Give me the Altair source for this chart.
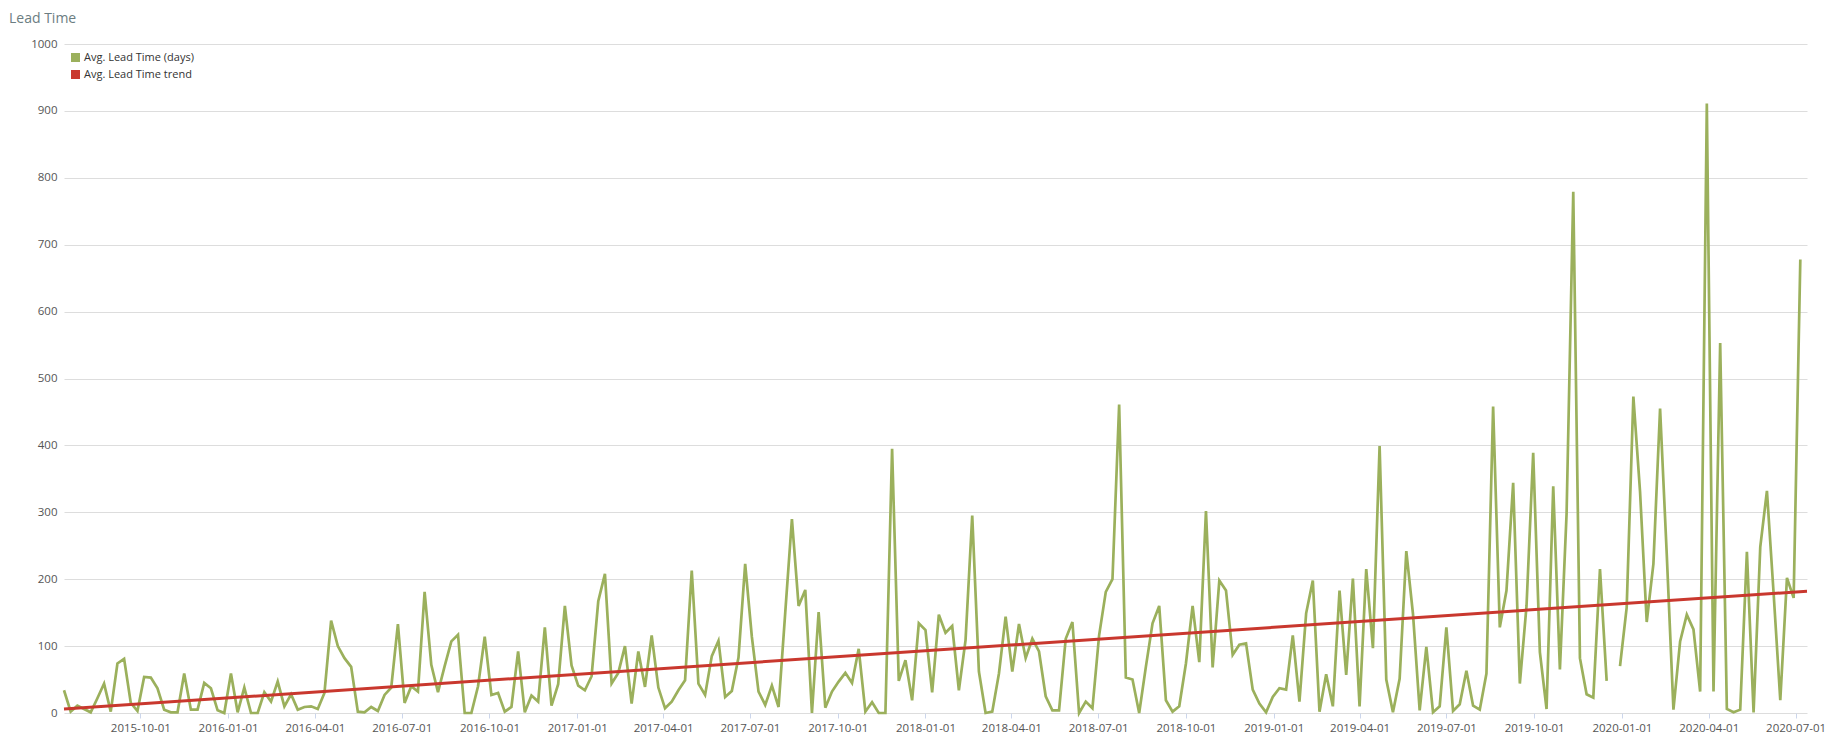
import altair as alt
import pandas as pd

# ---- data ----
start_date = "2015-07-13"  # first weekly point
lead_time_values = [
    34, 2, 11, 6, 1, 22, 44, 2, 74, 81, 15, 3, 54, 53, 37, 5, 1, 1, 59, 5,
    5, 45, 37, 4, 0, 59, 1, 38, 0, 0, 31, 17, 47, 10, 28, 5, 9, 10, 6, 30,
    138, 100, 82, 69, 2,
    1, 9, 3, 27, 38, 133, 15, 40, 32, 181, 72, 31, 70, 107, 117, 0, 0, 40, 114, 27,
    30, 2, 9, 92, 1, 26, 17, 128, 11, 43, 160, 71, 41, 34, 55, 167, 208, 44, 60, 100,
    14, 92, 39, 116, 38,
    7, 17, 34, 49, 213, 44, 27, 85, 108, 24, 33, 83, 223, 114, 32, 12, 41, 9, 150, 290,
    160, 184, 0, 151, 8, 32, 47, 60, 45, 96, 2, 16, 0, 0, 395, 48, 79, 19, 134, 124,
    31, 147, 120, 130, 34,
    109, 295, 62, 0, 2, 59, 144, 62, 133, 82, 111, 92, 25, 4, 4, 111, 136, 0, 17, 7,
    116, 181, 200, 461, 53, 50, 0, 69, 134, 160, 19, 2, 10, 74, 160, 76, 302, 68, 198, 183,
    87, 102, 104, 35, 14,
    1, 24, 37, 35, 116, 17, 149, 198, 2, 58, 10, 183, 57, 201, 10, 215, 97, 399, 50, 1,
    51, 242, 148, 4, 99, 1, 10, 128, 3, 13, 63, 11, 5, 59, 458, 128, 183, 344, 44, 160,
    389, 91, 6, 339, 65,
    298, 779, 82, 28, 23, 215, 48, None, 70, 158, 473, 331, 136, 223, 455, 237, 5, 107, 147, 125,
    32, 911, 32, 553, 6, 1, 5, 241, 1, 248, 332, 179, 19, 202, 172, 678,
]
trend_dates = ["2015-07-13", "2020-07-13"]
trend_values = [6, 182]
x_domain = [(2015, 7, 13), (2020, 7, 13)]
x_tick_dates = [
    (2015, 10, 1), (2016, 1, 1), (2016, 4, 1), (2016, 7, 1), (2016, 10, 1),
    (2017, 1, 1), (2017, 4, 1), (2017, 7, 1), (2017, 10, 1), (2018, 1, 1),
    (2018, 4, 1), (2018, 7, 1), (2018, 10, 1), (2019, 1, 1), (2019, 4, 1),
    (2019, 7, 1), (2019, 10, 1), (2020, 1, 1), (2020, 4, 1), (2020, 7, 1),
]
y_ticks = [0, 100, 200, 300, 400, 500, 600, 700, 800, 900, 1000]
series_names = ["Avg. Lead Time (days)", "Avg. Lead Time trend"]
series_colors = ["#9bb05c", "#c9382e"]
chart_title = ["Lead Time"]

# ---- tables ----
dates = pd.date_range(start_date, periods=len(lead_time_values), freq="7D")
rows = []
segment = 0
for d, v in zip(dates, lead_time_values):
    if v is None:
        segment += 1
        continue
    rows.append({"date": d.strftime("%Y-%m-%d"), "value": v,
                 "series": series_names[0], "segment": segment})
df_main = pd.DataFrame(rows)
df_trend = pd.DataFrame({"date": trend_dates, "value": trend_values,
                         "series": series_names[1], "segment": -1})
df_title = pd.DataFrame({"title": chart_title})


def dt(t):
    return alt.DateTime(year=t[0], month=t[1], date=t[2], utc=True)


FONT = "Open Sans"
LABEL_COLOR = "#555555"

x_enc = alt.X(
    "date:T",
    scale=alt.Scale(type="utc", domain=[dt(t) for t in x_domain]),
    axis=alt.Axis(
        values=[dt(t) for t in x_tick_dates],
        labelExpr="utcFormat(datum.value, '%Y-%m-%d')",
        labelFont=FONT, labelFontSize=11.5, labelColor=LABEL_COLOR,
        tickSize=5, tickColor="#ccd6eb", domain=False, grid=False,
        labelPadding=4, title=None, labelOverlap=False,
    ),
)
y_enc = alt.Y(
    "value:Q",
    scale=alt.Scale(domain=[0, 1000], nice=False),
    axis=alt.Axis(
        values=y_ticks, format="d", labelFont=FONT, labelFontSize=11.5,
        labelColor=LABEL_COLOR, ticks=False, domain=False,
        gridColor="#dddddd", gridWidth=1, labelPadding=7, title=None,
    ),
)
color_scale = alt.Scale(domain=series_names, range=series_colors)

main_line = alt.Chart(df_main).mark_line(
    strokeWidth=2.7, color=series_colors[0]
).encode(x=x_enc, y=y_enc, detail="segment:N")
trend_line = alt.Chart(df_trend).mark_line(
    strokeWidth=3, color=series_colors[1]
).encode(x=x_enc, y=y_enc, detail="segment:N")

# legend carrier: filled squares of zero size (only the legend is visible)
legend_layer = alt.Chart(df_trend).mark_square(size=0).encode(
    x=x_enc, y=y_enc,
    fill=alt.Fill(
        "series:N", scale=color_scale,
        legend=alt.Legend(
            title=None, orient="none", legendX=6, legendY=8, direction="vertical",
            symbolType="square", symbolSize=81, symbolStrokeWidth=0,
            symbolOpacity=1, labelFont=FONT, labelFontSize=11,
            labelColor="#333333", labelOffset=3, rowPadding=5, padding=0,
        ),
    ),
)

title_text = alt.Chart(df_title).mark_text(
    align="left", baseline="alphabetic", font=FONT, fontSize=14,
    color="#6b7d82",
).encode(x=alt.value(-55), y=alt.value(-21), text="title:N")

chart = (
    alt.layer(main_line, trend_line, legend_layer, title_text)
    .properties(
        width=1743, height=669,
        autosize=alt.AutoSizeParams(type="none"),
        padding={"left": 56, "top": 36, "right": 32, "bottom": 40},
    )
    .configure_view(stroke=None)
)

chart.save("out.html", embed_options={"renderer": "svg", "actions": False})
